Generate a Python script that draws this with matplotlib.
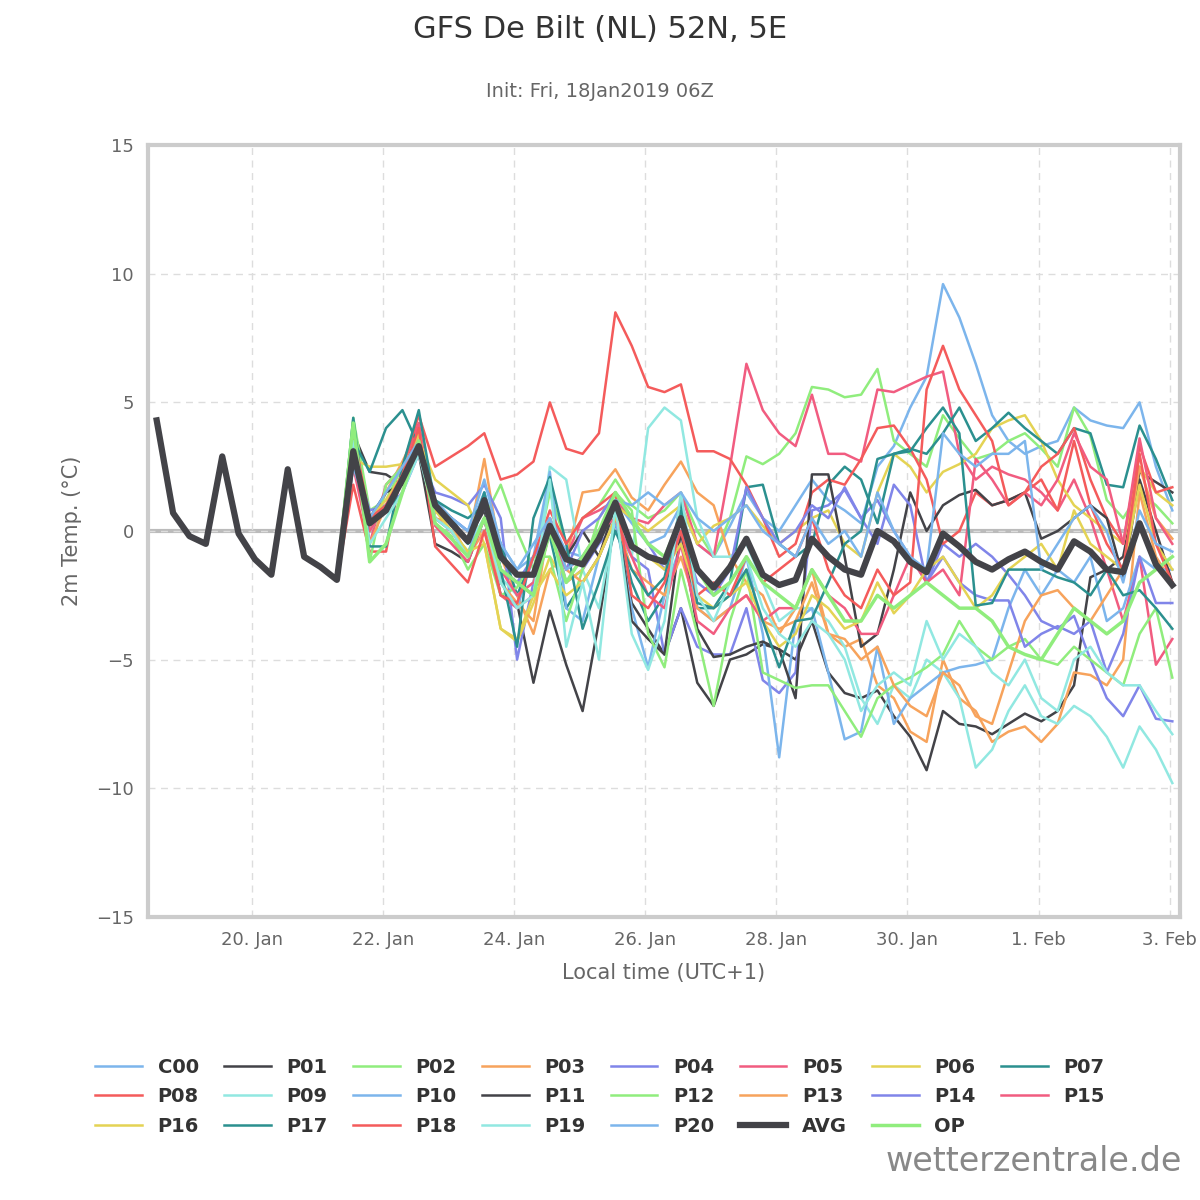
import matplotlib
matplotlib.use("Agg")
import matplotlib.pyplot as plt
import pandas as pd

# shared first 12 steps (18 Jan 13h .. 21 Jan 07h local), all members nearly equal
start = [4.3, 0.7, -0.2, -0.5, 2.9, -0.1, -1.1, -1.7, 2.4, -1.0, -1.4, -1.9]

tails = {
    "C00": [3.0,0.5,1.0,2.2,3.5, 1.2,0.5,0.0,1.5,-0.5, -1.5,-1.0,0.5,-0.8,-1.0, 0.0,1.2,0.3,-0.5,-0.2, 1.0,-0.5,-1.0,0.2,1.5, 0.5,0.0,1.0,2.0,1.2, 0.8,0.3,2.5,3.3,4.8, 6.0,9.6,8.3,6.5,4.5, 3.5,3.0,3.3,3.5,4.8, 4.3,4.1,4.0,5.0,2.5,0.8],
    "P01": [3.8,2.3,2.2,1.8,3.0, -0.5,-0.8,-1.2,0.5,-2.5, -2.8,-5.9,-3.1,-5.2,-7.0, -3.5,0.5,-2.8,-3.8,-4.8, -3.0,-5.9,-6.8,-5.0,-4.8, -4.4,-4.6,-5.0,-3.5,-5.5, -6.3,-6.5,-6.2,-7.2,-8.0, -9.3,-7.0,-7.5,-7.6,-7.9, -7.5,-7.1,-7.4,-7.0,-6.0, -1.8,-1.5,-1.0,2.3,1.9,1.5],
    "P02": [4.4,0.8,1.2,2.5,3.5, 0.5,0.0,-0.8,0.5,1.8, 0.0,-1.5,1.5,-0.5,0.5, 1.0,2.0,1.0,0.5,0.8, 1.5,0.0,-1.0,0.5,2.9, 2.6,3.0,3.8,5.6,5.5, 5.2,5.3,6.3,3.5,3.0, 2.5,4.5,3.6,2.8,3.0, 3.5,3.8,3.2,2.5,4.8, 3.7,1.2,0.5,1.5,1.0,0.3],
    "P03": [3.0,0.0,1.5,2.7,4.0, 1.0,0.5,-0.5,2.8,-1.0, -2.5,-4.0,-1.5,-1.0,1.5, 1.6,2.4,1.3,0.8,1.8, 2.7,1.5,1.0,-1.0,-2.0, -2.5,-4.0,-3.0,-1.5,-4.0, -4.5,-4.2,-6.0,-6.5,-7.8, -8.2,-5.0,-6.5,-7.0,-8.2, -7.8,-7.6,-8.2,-7.5,-5.5, -5.6,-6.0,-5.0,1.5,-1.0,-2.0],
    "P04": [3.0,0.8,1.0,2.0,3.0, 1.5,1.3,1.0,1.8,0.5, -5.0,-2.0,0.5,-2.0,-1.5, -0.5,0.2,-1.0,-1.5,-4.8, -3.0,-4.5,-4.8,-4.8,-3.0, -5.8,-6.3,-5.5,0.8,1.0, 1.6,0.5,1.2,0.0,-1.0, -2.0,-0.5,-1.0,-0.5,-1.0, -1.7,-2.5,-3.5,-3.8,-3.3, -5.0,-6.5,-7.2,-6.0,-7.3,-7.4],
    "P05": [2.5,-0.5,1.8,2.5,4.2, 0.5,0.0,-1.0,0.5,-2.5, -3.0,-2.5,0.0,-1.0,0.5, 0.8,1.2,0.5,0.3,1.0, 1.5,-0.5,-1.0,2.5,6.5, 4.7,3.8,3.3,5.3,3.0, 3.0,2.7,5.5,5.4,5.7, 6.0,6.2,3.0,2.0,2.5, 2.2,2.0,1.5,0.8,2.0, 0.5,-1.5,-3.5,-1.0,-5.2,-4.2],
    "P06": [2.8,2.5,2.5,2.6,3.5, 2.0,1.5,1.0,-0.5,-3.8, -4.3,-2.8,-1.0,-2.0,-1.5, 0.0,1.0,0.5,0.0,0.5, 1.0,-0.5,0.2,0.5,1.0, 0.2,-0.5,0.0,0.5,0.8, -0.5,-1.0,1.5,3.0,2.5, 1.5,2.3,2.6,3.0,4.0, 4.3,4.5,3.5,2.0,1.0, 0.5,0.0,-0.5,2.5,1.5,1.0],
    "P07": [3.5,2.3,4.0,4.7,3.3, 1.2,0.8,0.5,1.0,-0.5, -2.5,-1.0,-0.2,-3.0,-2.0, -1.0,0.5,-2.0,-3.5,-2.5, 1.2,-3.0,-3.0,-2.0,1.7, 1.8,-0.5,-1.0,-0.5,1.8, 2.5,2.0,0.3,3.0,3.2, 3.0,3.8,4.8,3.5,4.0, 4.6,4.0,3.5,3.0,4.0, 3.8,1.8,1.7,4.1,2.8,1.2],
    "P08": [1.8,-0.8,-0.8,2.5,4.5, 2.5,2.9,3.3,3.8,2.0, 2.2,2.7,5.0,3.2,3.0, 3.8,8.5,7.2,5.6,5.4, 5.7,3.1,3.1,2.8,1.8, 0.5,-1.0,-0.5,1.5,2.0, 1.8,2.8,4.0,4.1,3.2, 2.0,-0.5,0.0,1.5,1.0, 1.2,1.5,2.5,3.0,4.0, 2.0,0.5,-0.5,3.3,1.5,1.7],
    "P09": [3.5,0.0,1.0,2.0,3.0, 0.8,0.3,-0.5,0.5,-1.8, -2.5,-2.0,2.5,2.0,-1.5, -3.0,0.5,-1.0,4.0,4.8, 4.3,0.5,-1.0,-1.0,-0.5, -2.0,-3.5,-3.0,-3.0,-3.5, -4.5,-6.5,-7.5,-6.0,-6.5, -5.0,-5.5,-6.5,-9.2,-8.5, -7.0,-6.0,-7.2,-7.5,-6.8, -7.2,-8.0,-9.2,-7.6,-8.5,-9.8],
    "P10": [2.5,0.5,1.0,2.0,3.5, 0.5,0.0,-1.0,1.5,-2.0, -3.0,-1.0,2.3,-3.0,-3.5, -1.0,0.5,-3.0,-5.3,-2.5, -0.5,-3.0,-3.5,-3.0,-1.0, -4.0,-8.8,-3.5,-3.0,-5.5, -8.1,-7.8,-4.5,-7.5,-6.5, -6.0,-5.5,-5.3,-5.2,-5.0, -3.0,-1.5,-2.5,-1.5,-2.0, -1.0,-3.5,-3.0,-1.0,-1.5,-1.5],
    "P11": [3.0,0.5,1.5,1.8,3.2, 1.0,0.2,-0.3,0.8,-1.5, -2.0,-2.5,0.0,-1.0,0.0, -1.0,1.0,-3.5,-4.2,-4.8, 0.0,-3.8,-4.9,-4.8,-4.5, -4.3,-4.6,-6.5,2.2,2.2, -1.0,-4.5,-4.0,-1.5,1.5, 0.0,1.0,1.4,1.6,1.0, 1.2,1.5,-0.3,0.0,0.5, 1.0,0.5,-1.8,2.0,0.0,-2.0],
    "P12": [4.0,-1.2,1.8,2.5,3.3, 0.3,-0.2,-1.5,-0.5,-2.5, -2.2,-1.0,-1.0,-3.5,-1.5, 0.5,1.5,0.8,-4.0,-5.3, -1.5,-4.0,-6.8,-3.5,-1.5, -5.5,-5.8,-6.1,-6.0,-6.0, -7.0,-8.0,-6.5,-6.0,-5.7, -5.3,-4.8,-3.5,-4.5,-5.0, -4.5,-4.2,-5.0,-5.2,-4.5, -5.0,-5.5,-6.0,-4.0,-3.0,-5.7],
    "P13": [3.5,-0.5,1.0,2.0,3.8, 0.5,0.3,-1.0,0.0,-2.0, -2.8,-3.5,0.5,-1.5,-2.0, -1.0,0.5,-1.5,-2.0,-2.5, -1.0,-3.0,-3.5,-3.0,-2.5, -3.5,-3.8,-3.5,-2.0,-4.0, -4.2,-5.0,-4.5,-6.0,-6.8, -7.2,-5.5,-6.0,-7.2,-7.5, -5.5,-3.5,-2.5,-2.3,-3.0, -3.5,-2.5,-1.5,2.5,0.5,-0.3],
    "P14": [3.3,0.3,0.8,1.5,3.0, 1.0,0.5,0.0,1.0,-1.5, -2.0,-1.0,0.0,-1.5,0.0, 0.5,1.5,0.5,-0.5,-1.5, 0.0,-2.0,-2.5,-1.5,1.7, 0.5,-0.5,0.0,1.0,0.5, 1.7,0.5,-0.5,1.8,1.0, -2.0,-1.0,-2.0,-2.5,-2.7, -2.7,-4.5,-4.0,-3.7,-4.0, -3.5,-5.5,-4.0,-1.0,-2.8,-2.8],
    "P15": [3.0,0.0,1.0,2.0,3.5, 0.2,-0.5,-1.2,0.5,-1.5, -2.5,-2.0,0.0,-1.5,-1.0, 0.0,0.5,-1.0,-2.5,-3.0, -0.5,-3.5,-4.0,-3.0,-2.5, -3.5,-3.0,-3.0,-1.5,-2.5, -3.0,-4.0,-4.0,-2.5,-1.0, -2.0,-1.5,-2.5,2.8,2.0, 1.0,1.5,1.0,2.0,3.8, 2.5,2.0,-0.5,3.6,0.5,-0.5],
    "P16": [3.2,0.5,1.2,2.2,3.8, 0.8,0.0,-0.8,-0.5,-3.8, -4.2,-2.5,-1.5,-2.5,-2.0, -1.0,0.5,-0.5,-1.0,-1.5, -0.5,-2.5,-3.0,-2.5,-2.0, -3.5,-4.5,-4.0,-2.5,-3.0, -3.8,-3.5,-2.0,-3.2,-2.5, -1.5,-1.0,-2.0,-3.0,-2.5, -1.5,-1.0,-0.5,-1.5,0.8, -0.5,-1.0,-1.5,1.8,-0.5,-1.5],
    "P17": [4.4,-0.6,-0.6,2.5,4.7, 1.0,0.5,-0.5,1.5,-1.5, -4.5,0.5,2.1,-0.5,-3.8, -2.0,0.0,-1.5,-2.5,-1.8, 0.8,-2.8,-3.0,-2.5,-1.5, -3.5,-5.3,-3.5,-3.4,-2.0, -0.5,0.0,2.8,3.0,3.1, 4.0,4.8,3.8,-2.9,-2.8, -1.5,-1.5,-1.5,-1.8,-2.0, -2.5,-1.5,-2.5,-2.3,-3.0,-3.8],
    "P18": [3.8,0.5,1.0,2.2,4.0, -0.6,-1.3,-2.0,0.0,-2.5, -2.8,-1.0,0.8,-0.5,0.5, 1.0,1.5,-2.5,-3.0,-2.0, 0.0,-2.5,-2.0,-2.5,-1.0, -2.0,-1.5,-1.0,0.5,-1.5, -2.5,-3.0,-1.5,-2.5,-2.0, 5.5,7.2,5.5,4.5,3.5, 1.0,1.5,2.0,0.8,3.5, 1.0,-0.5,-1.5,3.0,-0.5,-2.0],
    "P19": [3.5,-0.5,0.5,1.5,3.0, 0.5,0.0,-1.0,0.5,-2.0, -3.0,-2.5,2.0,-4.5,-2.0, -5.0,1.0,-4.0,-5.4,-3.5, 1.5,-2.5,-3.5,-2.0,-1.0, -3.0,-4.0,-4.5,-3.5,-4.0, -5.0,-7.0,-6.0,-5.5,-6.0, -3.5,-5.0,-4.0,-4.5,-5.5, -6.0,-5.0,-6.5,-7.0,-5.0, -4.5,-5.5,-6.0,-6.0,-7.0,-7.9],
    "P20": [3.2,0.5,1.5,2.5,3.5, 1.0,0.5,0.0,2.0,-0.5, -1.5,-0.5,0.5,-1.5,-1.0, 0.0,1.2,1.0,1.5,1.0, 1.5,0.5,0.0,0.5,1.0, 0.0,-0.5,-1.0,0.5,-0.5, 0.0,-1.0,1.5,0.0,-1.0, -1.5,3.8,3.0,2.5,3.0, 3.0,3.5,-1.5,-0.5,0.5, 1.0,0.0,-2.0,0.8,-0.5,-0.8],
    "AVG": [3.1,0.3,0.8,2.0,3.3, 1.0,0.3,-0.4,1.2,-1.0, -1.7,-1.7,0.2,-1.1,-1.3, -0.3,1.1,-0.6,-1.0,-1.2, 0.5,-1.5,-2.2,-1.4,-0.3, -1.7,-2.1,-1.9,-0.3,-1.0, -1.5,-1.7,0.0,-0.4,-1.2, -1.6,-0.1,-0.6,-1.2,-1.5, -1.1,-0.8,-1.2,-1.5,-0.4, -0.8,-1.5,-1.6,0.3,-1.3,-2.1],
    "OP": [4.2,-1.2,-0.5,1.5,3.5, 0.3,-0.3,-1.0,0.5,-1.5, -2.0,-2.5,0.0,-2.0,-1.0, 0.0,1.5,0.5,-0.5,-1.0, 0.5,-1.5,-2.5,-2.0,-1.0, -2.0,-2.5,-3.0,-1.5,-2.5, -3.5,-3.5,-2.5,-3.0,-2.5, -2.0,-2.5,-3.0,-3.0,-3.5, -4.5,-4.8,-5.0,-4.0,-3.0, -3.5,-4.0,-3.5,-2.0,-1.5,-1.0],
}

palette = ["#7cb5ec", "#434348", "#90ed7d", "#f7a35c", "#8085e9",
           "#f15c80", "#e4d354", "#2b908f", "#f45b5b", "#91e8e1"]

times = pd.date_range("2019-01-18 13:00", periods=len(start) + 51, freq="6h")

fig = plt.figure(figsize=(12, 12), dpi=100)
ax = fig.add_axes([0.123, 0.236, 0.860, 0.643])

ax.axhline(0, color="#bbbbbb", lw=3, zorder=1)
handles = []
for i, (name, tail) in enumerate(tails.items()):
    vals = start + tail
    if name == "AVG":
        h, = ax.plot(times, vals, color="#434348", lw=4.5, label=name, zorder=5)
    elif name == "OP":
        h, = ax.plot(times, vals, color="#90ed7d", lw=2.5, label=name, zorder=4)
    else:
        h, = ax.plot(times, vals, color=palette[i % 10], lw=1.8, label=name, zorder=3)
    handles.append(h)

ax.set_ylim(-15, 15)
ax.set_yticks(range(-15, 16, 5))
ax.set_xlim(pd.Timestamp("2019-01-18 09:40"), pd.Timestamp("2019-02-03 03:40"))
ticks = pd.date_range("2019-01-20", "2019-02-03", freq="2D")
ax.set_xticks(ticks)
ax.set_xticklabels([f"{t.day}. {t.strftime('%b')}" for t in ticks])
ax.grid(True, ls=(0, (5, 4)), color="#dddddd", lw=1)
for s in ax.spines.values():
    s.set_color("#cccccc")
    s.set_linewidth(3)
ax.tick_params(length=0, labelsize=13, colors="#666666", pad=10)
ax.set_ylabel("2m Temp. (°C)", fontsize=15, color="#666666", labelpad=10)
ax.set_xlabel("Local time (UTC+1)", fontsize=15, color="#666666", labelpad=10)

fig.text(0.5, 0.975, "GFS De Bilt (NL) 52N, 5E", ha="center", va="center",
         fontsize=22, color="#333333")
fig.text(0.5, 0.924, "Init: Fri, 18Jan2019 06Z", ha="center", va="center",
         fontsize=14, color="#666666")

# legend filled row by row like the original
order = [c + 8 * r for c in range(8) for r in range(3) if c + 8 * r < len(handles)]
leg = fig.legend([handles[k] for k in order], [handles[k].get_label() for k in order],
                 loc="center", bbox_to_anchor=(0.5, 0.086), ncol=8, frameon=False,
                 prop={"weight": "bold", "size": 14}, handlelength=2.4,
                 columnspacing=1.3, labelspacing=0.55)
for t in leg.get_texts():
    t.set_color("#333333")

fig.text(0.985, 0.018, "wetterzentrale.de", ha="right", va="bottom",
         fontsize=24, color="#888888")

fig.savefig("out.png", dpi=100)
